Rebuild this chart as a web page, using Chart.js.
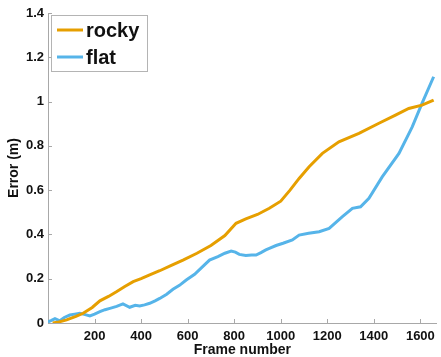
<!DOCTYPE html>
<html>
<head>
<meta charset="utf-8">
<script src="https://cdn.jsdelivr.net/npm/chart.js@4/dist/chart.umd.min.js"></script>
<style>
  html, body { margin: 0; padding: 0; background: #fff; }
  #wrap { width: 441px; height: 357px; }
</style>
</head>
<body>
<div id="wrap"><canvas id="err-chart" width="441" height="357"></canvas></div>
<script>
// Error vs frame number
const rockyFrames = [20, 40, 80, 120, 151, 190, 223, 260, 294, 330, 366, 400, 437, 480, 530, 580, 640, 700, 760, 808, 850, 900, 951, 1000, 1040, 1079, 1122, 1179, 1250, 1336, 1422, 1493, 1550, 1607, 1657];
const rockyError  = [0, 0.003, 0.014, 0.03, 0.044, 0.07, 0.1, 0.12, 0.141, 0.165, 0.187, 0.2, 0.217, 0.236, 0.26, 0.284, 0.315, 0.35, 0.395, 0.45, 0.47, 0.49, 0.518, 0.55, 0.6, 0.653, 0.706, 0.766, 0.818, 0.856, 0.902, 0.939, 0.969, 0.984, 1.007];

const flatFrames = [0, 15, 30, 51, 70, 94, 115, 137, 160, 180, 200, 223, 245, 266, 295, 322, 351, 375, 394, 415, 437, 460, 480, 510, 537, 565, 594, 630, 660, 694, 730, 760, 787, 805, 822, 850, 875, 894, 915, 936, 951, 980, 1010, 1050, 1079, 1120, 1165, 1208, 1265, 1308, 1343, 1379, 1436, 1508, 1565, 1607, 1657];
const flatError  = [0.005, 0.012, 0.02, 0.01, 0.025, 0.036, 0.04, 0.044, 0.038, 0.032, 0.04, 0.051, 0.06, 0.066, 0.075, 0.086, 0.071, 0.08, 0.077, 0.082, 0.089, 0.1, 0.111, 0.13, 0.152, 0.17, 0.194, 0.22, 0.25, 0.284, 0.3, 0.315, 0.325, 0.32, 0.31, 0.305, 0.307, 0.307, 0.318, 0.33, 0.337, 0.35, 0.36, 0.375, 0.397, 0.405, 0.412, 0.427, 0.48, 0.518, 0.525, 0.563, 0.66, 0.766, 0.886, 0.992, 1.112];

const xTicks = [200, 400, 600, 800, 1000, 1200, 1400, 1600];
const yTicks = [0, 0.2, 0.4, 0.6, 0.8, 1, 1.2, 1.4];
const seriesNames = ['rocky', 'flat'];
const seriesColors = ['#E69F00', '#56B4E9'];
const xTitle = 'Frame number';
const yTitle = 'Error (m)';

const axisColor = '#a8a8a8';
const fontFamily = 'Liberation Sans, Arial, sans-serif';
const tickFont = { family: fontFamily, size: 13, weight: 'bold' };

const toPoints = (xs, ys) => xs.map((x, i) => ({ x, y: ys[i] }));

// tick marks inside the plot + axis titles, placed like the original
const axisExtras = {
  id: 'axisExtras',
  afterDraw(chart) {
    const { ctx, chartArea: a, scales: { x, y } } = chart;
    ctx.save();
    ctx.strokeStyle = axisColor;
    ctx.lineWidth = 1;
    ctx.beginPath();
    xTicks.forEach(v => {
      const px = Math.round(x.getPixelForValue(v)) + 0.5;
      ctx.moveTo(px, a.bottom); ctx.lineTo(px, a.bottom - 4);
    });
    yTicks.forEach(v => {
      const py = Math.round(y.getPixelForValue(v)) + 0.5;
      ctx.moveTo(a.left, py); ctx.lineTo(a.left + 4, py);
    });
    ctx.stroke();

    ctx.fillStyle = '#111';
    ctx.font = 'bold 14px ' + fontFamily;
    ctx.textAlign = 'center';
    ctx.textBaseline = 'middle';
    ctx.fillText(xTitle, (a.left + a.right) / 2, 350);
    ctx.translate(14, (a.top + a.bottom) / 2);
    ctx.rotate(-Math.PI / 2);
    ctx.fillText(yTitle, 0, 0);
    ctx.restore();
  }
};

// boxed legend in the upper left corner of the plot
const boxLegend = {
  id: 'boxLegend',
  afterDraw(chart) {
    const { ctx, chartArea: a } = chart;
    const bx = a.left + 3, by = a.top + 2, bw = 96, bh = 56;
    ctx.save();
    ctx.fillStyle = '#fff';
    ctx.fillRect(bx, by, bw, bh);
    ctx.strokeStyle = '#b4b4b4';
    ctx.lineWidth = 1;
    ctx.strokeRect(bx + 0.5, by + 0.5, bw, bh);
    ctx.font = 'bold 20px ' + fontFamily;
    ctx.textBaseline = 'middle';
    chart.data.datasets.forEach((ds, i) => {
      const cy = by + 15 + i * 27;
      ctx.strokeStyle = ds.borderColor;
      ctx.lineWidth = 3;
      ctx.beginPath();
      ctx.moveTo(bx + 6, cy); ctx.lineTo(bx + 32, cy);
      ctx.stroke();
      ctx.fillStyle = '#111';
      ctx.fillText(ds.label, bx + 35, cy + 1);
    });
    ctx.restore();
  }
};

new Chart(document.getElementById('err-chart'), {
  type: 'line',
  data: {
    datasets: [
      { label: seriesNames[0], data: toPoints(rockyFrames, rockyError), borderColor: seriesColors[0], borderWidth: 3, pointRadius: 0, tension: 0 },
      { label: seriesNames[1], data: toPoints(flatFrames, flatError), borderColor: seriesColors[1], borderWidth: 3, pointRadius: 0, tension: 0 }
    ]
  },
  options: {
    responsive: false,
    animation: false,
    layout: { padding: { top: 13, right: 4, left: 0, bottom: 0 } },
    plugins: { legend: { display: false }, tooltip: { enabled: false } },
    scales: {
      x: {
        type: 'linear', min: 0, max: 1670,
        afterBuildTicks: s => { s.ticks = xTicks.map(v => ({ value: v })); },
        afterFit: s => { s.height = 34; },
        grid: { drawOnChartArea: false, drawTicks: false },
        border: { color: axisColor, width: 1 },
        ticks: { color: '#111', font: tickFont, padding: 6, maxRotation: 0, autoSkip: false, callback: v => String(v) }
      },
      y: {
        min: 0, max: 1.4,
        afterBuildTicks: s => { s.ticks = yTicks.map(v => ({ value: v })); },
        afterFit: s => { s.width = 48; },
        grid: { drawOnChartArea: false, drawTicks: false },
        border: { color: axisColor, width: 1 },
        ticks: { color: '#111', font: tickFont, padding: 4, callback: v => String(+v.toFixed(1)) }
      }
    }
  },
  plugins: [axisExtras, boxLegend]
});
</script>
</body>
</html>
